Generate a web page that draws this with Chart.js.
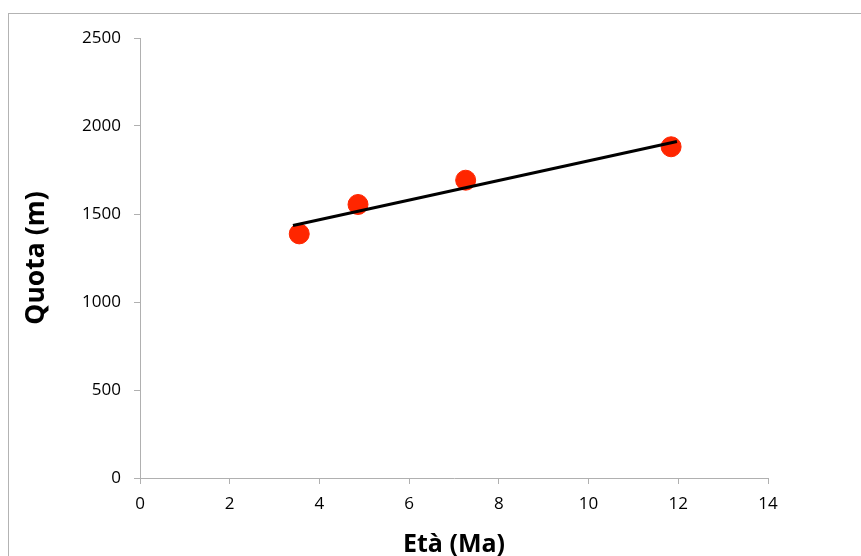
<!DOCTYPE html>
<html>
<head>
<meta charset="utf-8">
<script src="https://cdn.jsdelivr.net/npm/chart.js@4"></script>
<style>
  body { margin: 0; background: #fff; overflow: hidden; }
  .frame { position: absolute; left: 8px; top: 13px; width: 900px; height: 600px;
           border-left: 1px solid #b3b3b3; border-top: 1px solid #b3b3b3; }
  canvas { position: absolute; left: 0; top: 0; }
</style>
</head>
<body>
<div class="frame"></div>
<canvas id="chart" width="861" height="556"></canvas>
<script>
  // Age (Ma) vs elevation (m)
  const ages = [3.55, 4.86, 7.26, 11.84];
  const heights = [1387, 1554, 1692, 1882];

  // trend line end points
  const trendAges = [3.41, 11.97];
  const trendHeights = [1435, 1912];

  const xTicks = [0, 2, 4, 6, 8, 10, 12, 14];
  const yTicks = [0, 500, 1000, 1500, 2000, 2500];

  const axisColor = '#b0b0b0';
  const tickFont = { family: 'Open Sans', size: 17 };

  const config = {
    type: 'scatter',
    data: {
      datasets: [
        {
          type: 'line',
          data: trendAges.map((a, i) => ({ x: a, y: trendHeights[i] })),
          borderColor: '#000',
          borderWidth: 3,
          pointRadius: 0,
          fill: false,
          order: 0,
        },
        {
          data: ages.map((a, i) => ({ x: a, y: heights[i] })),
          backgroundColor: '#ff2600',
          borderColor: '#ff2600',
          pointRadius: 10,
          order: 1,
        },
      ],
    },
    options: {
      responsive: false,
      animation: false,
      layout: { padding: { left: 0, top: 38, right: 93, bottom: 0 } },
      plugins: { legend: { display: false }, tooltip: { enabled: false } },
      scales: {
        x: {
          type: 'linear',
          min: 0,
          max: 14,
          afterBuildTicks: (s) => { s.ticks = xTicks.map(v => ({ value: v })); },
          afterFit: (s) => { s.height = 78; },
          grid: { display: true, drawOnChartArea: false, drawTicks: true, tickLength: 6, color: axisColor },
          border: { display: true, color: axisColor, width: 1 },
          ticks: { color: '#000', font: tickFont, padding: 10, callback: (v) => String(v) },
          title: { display: true, text: 'Età (Ma)', color: '#000',
                   font: { family: 'Open Sans', size: 25, weight: 'bold' }, padding: { top: 0, bottom: -4 } },
        },
        y: {
          min: 0,
          max: 2500,
          afterBuildTicks: (s) => { s.ticks = yTicks.map(v => ({ value: v })); },
          afterFit: (s) => { s.width = 140; },
          grid: { display: true, drawOnChartArea: false, drawTicks: true, tickLength: 6, color: axisColor },
          border: { display: true, color: axisColor, width: 1 },
          ticks: { color: '#000', font: tickFont, padding: 13, callback: (v) => String(v) },
          title: { display: true, text: 'Quota (m)', color: '#000',
                   font: { family: 'Open Sans', size: 26.5, weight: 'bold' }, padding: { top: 21, bottom: 0 } },
        },
      },
    },
  };

  new Chart(document.getElementById('chart').getContext('2d'), config);
</script>
</body>
</html>
